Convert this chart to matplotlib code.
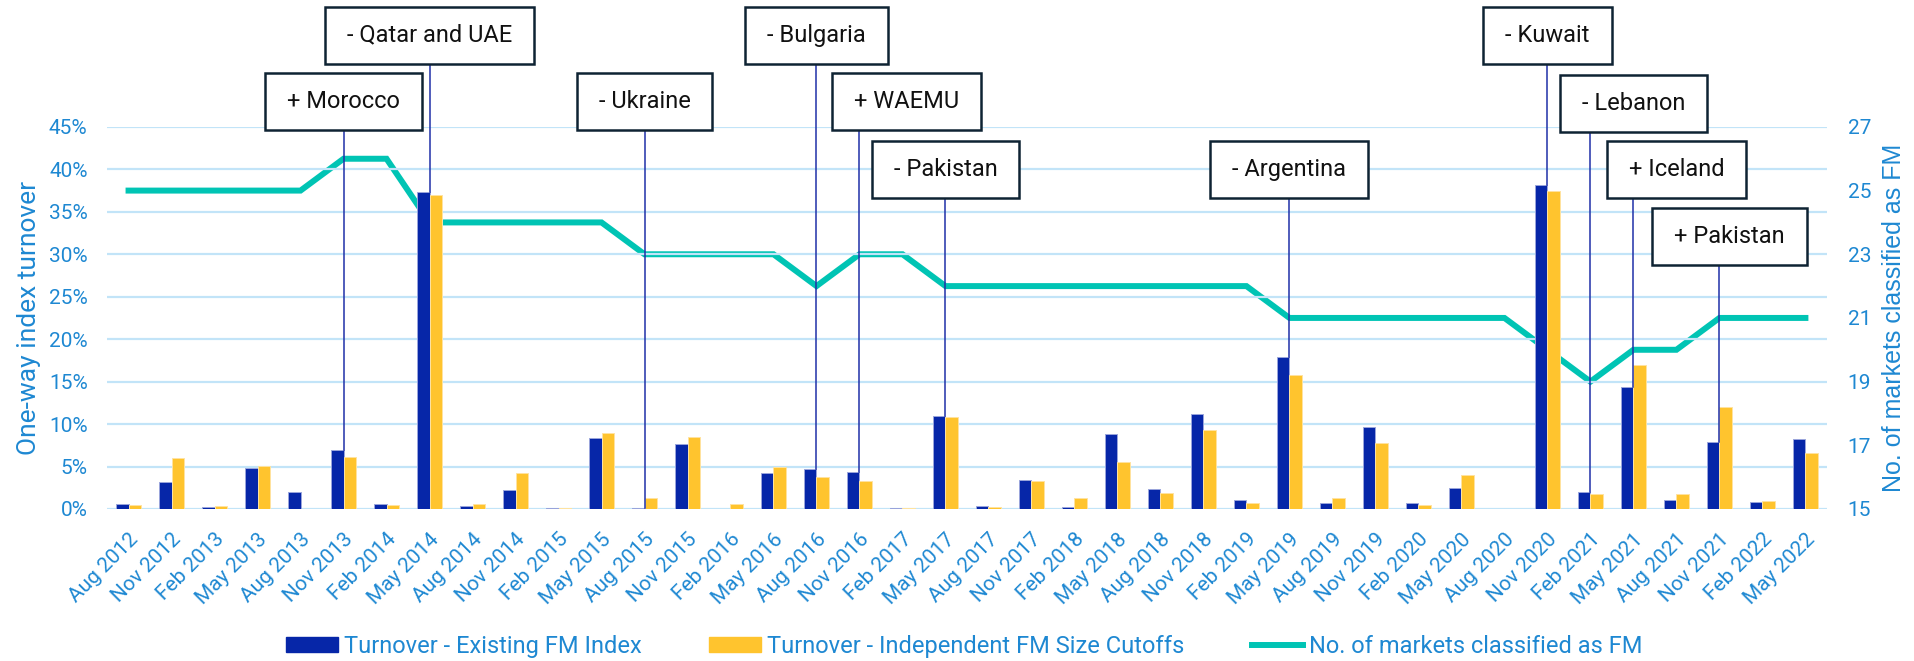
import matplotlib.pyplot as plt
from matplotlib.path import Path
from matplotlib.patches import Patch
from matplotlib.lines import Line2D

plt.rcParams['font.family'] = ['Roboto', 'DejaVu Sans']

dates = ['Aug 2012', 'Nov 2012',
         'Feb 2013', 'May 2013', 'Aug 2013', 'Nov 2013',
         'Feb 2014', 'May 2014', 'Aug 2014', 'Nov 2014',
         'Feb 2015', 'May 2015', 'Aug 2015', 'Nov 2015',
         'Feb 2016', 'May 2016', 'Aug 2016', 'Nov 2016',
         'Feb 2017', 'May 2017', 'Aug 2017', 'Nov 2017',
         'Feb 2018', 'May 2018', 'Aug 2018', 'Nov 2018',
         'Feb 2019', 'May 2019', 'Aug 2019', 'Nov 2019',
         'Feb 2020', 'May 2020', 'Aug 2020', 'Nov 2020',
         'Feb 2021', 'May 2021', 'Aug 2021', 'Nov 2021',
         'Feb 2022', 'May 2022']

# one-way turnover, %
turnover_existing = [0.55, 3.18, 0.2, 4.83, 1.96, 6.95, 0.55, 37.3, 0.35, 2.2,
                     0.16, 8.33, 0.16, 7.66, 0.05, 4.2, 4.75, 4.32, 0.16, 11.0,
                     0.31, 3.46, 0.27, 8.88, 2.32, 11.23, 1.1, 17.9, 0.75, 9.7,
                     0.75, 2.47, 0.05, 38.1, 1.96, 14.41, 1.1, 7.93, 0.82, 8.2]
turnover_cutoffs = [0.43, 5.97, 0.31, 5.07, 0.0, 6.09, 0.43, 37.0, 0.59, 4.2,
                    0.08, 8.92, 1.34, 8.48, 0.55, 4.99, 3.73, 3.26, 0.08, 10.84,
                    0.24, 3.34, 1.26, 5.5, 1.85, 9.35, 0.75, 15.83, 1.34, 7.74,
                    0.47, 3.97, 0.0, 37.4, 1.77, 16.93, 1.73, 12.02, 0.98, 6.6]
fm_markets = [25, 25, 25, 25, 25, 26, 26, 24, 24, 24,
              24, 24, 23, 23, 23, 23, 22, 23, 23, 22,
              22, 22, 22, 22, 22, 22, 22, 21, 21, 21,
              21, 21, 21, 20, 19, 20, 20, 21, 21, 21]

event_labels = ['+ Morocco', '- Qatar and UAE', '- Ukraine', '- Bulgaria', '+ WAEMU',
                '- Pakistan', '- Argentina', '- Kuwait', '- Lebanon', '+ Iceland',
                '+ Pakistan']
event_dates = ['Nov 2013', 'May 2014', 'Aug 2015', 'Aug 2016', 'Nov 2016',
               'May 2017', 'May 2019', 'Nov 2020', 'Feb 2021', 'May 2021',
               'Nov 2021']

# box placement: (height of box centre in left-axis units, shift in categories)
box_place = [(48.0, 0), (55.8, 0), (48.0, 0), (55.8, 0), (48.0, 1.1),
             (40.0, 0), (40.0, 0), (55.8, 0), (47.8, 1.0), (40.0, 1.0),
             (32.1, 0.23)]

BLUE = '#0626A8'
YELLOW = '#FFC42E'
GREEN = '#00C4B4'
TXT = '#1E88D2'
GRID = '#C2E4F8'


def box_path(x0, y0, width, height, mutation_size):
    px = 0.93 * mutation_size
    py = 0.72 * mutation_size
    x0, y0 = x0 - px, y0 - py
    x1, y1 = x0 + width + 2 * px, y0 + height + 2 * py
    return Path([(x0, y0), (x1, y0), (x1, y1), (x0, y1), (x0, y0)], closed=True)


fig, ax = plt.subplots(figsize=(19.15, 6.61), dpi=100)
fig.subplots_adjust(left=0.0559, right=0.954, bottom=0.230, top=0.808)
ax2 = ax.twinx()

x = list(range(len(dates)))
w = 0.29
ax.bar([i - w / 2 for i in x], turnover_existing, width=w, color=BLUE,
       edgecolor='#9aa5dc', linewidth=0.7, zorder=3)
ax.bar([i + w / 2 for i in x], turnover_cutoffs, width=w, color=YELLOW,
       edgecolor='#ffe3a0', linewidth=0.7, zorder=3)

ax.set_xlim(-0.5, len(dates) - 0.5)
ax.set_ylim(0, 45)
ax.set_yticks(range(0, 46, 5))
ax.set_yticklabels([f'{v}%' for v in range(0, 46, 5)])
ax.yaxis.grid(True, color=GRID, linewidth=1.6, zorder=0)
ax.set_axisbelow(True)
ax.set_xticks(x)
ax.set_xticklabels(dates, rotation=45, ha='right', rotation_mode='anchor')
ax.tick_params(axis='x', length=0, pad=15, labelsize=15, labelcolor=TXT)
ax.tick_params(axis='y', length=0, pad=14, labelsize=15, labelcolor=TXT)
ax.set_ylabel('One-way index turnover', fontsize=19, color=TXT, labelpad=6)

ax2.plot(x, fm_markets, color=GREEN, linewidth=4.3, solid_joinstyle='miter', zorder=4)
ax2.set_ylim(15, 27)
ax2.set_yticks(range(15, 28, 2))
ax2.tick_params(axis='y', length=0, pad=15, labelsize=15, labelcolor=TXT)
ax2.set_ylabel('No. of markets classified as FM', fontsize=18, color=TXT,
               family='Liberation Sans', labelpad=8)

for a in (ax, ax2):
    for s in a.spines.values():
        s.set_visible(False)

# annotations drawn on the top axes so they sit over the line
ax.set_zorder(ax2.get_zorder() + 1)
ax.patch.set_visible(False)
for label, d, (ty, shift) in zip(event_labels, event_dates, box_place):
    i = dates.index(d)
    ax.plot([i, i], [turnover_existing[i], ty], color='#1F30A8', linewidth=1.1,
            zorder=5, clip_on=False)
    ax.text(i + shift, ty, label, ha='center', va='center', fontsize=17,
            color='#111111', zorder=6, clip_on=False,
            bbox=dict(boxstyle=box_path, facecolor='white', edgecolor='#0E2333',
                      linewidth=1.8))

handles = [Patch(color=BLUE), Patch(color=YELLOW),
           Line2D([], [], color=GREEN, linewidth=4.3)]
fig.legend(handles, ['Turnover - Existing FM Index',
                     'Turnover - Independent FM Size Cutoffs',
                     'No. of markets classified as FM'],
           loc='center', bbox_to_anchor=(0.5037, 0.022), ncol=3, frameon=False,
           fontsize=17, labelcolor=TXT, handlelength=2.2, handleheight=0.55,
           handletextpad=0.25, columnspacing=2.85)

fig.savefig('out.png', dpi=100)
